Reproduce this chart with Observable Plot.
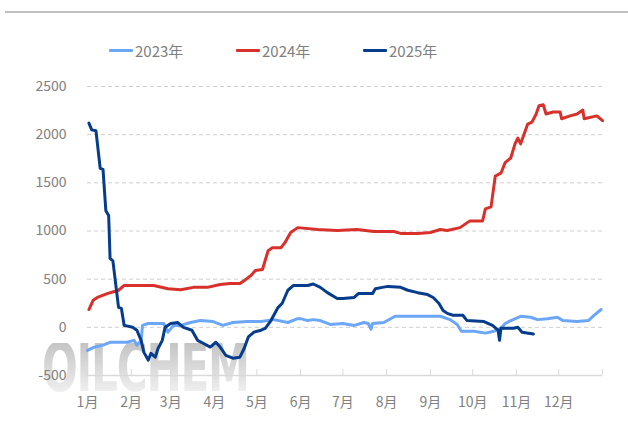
<!DOCTYPE html>
<html>
<head>
<meta charset="utf-8">
<script src="https://cdn.jsdelivr.net/npm/d3@7"></script>
<script src="https://cdn.jsdelivr.net/npm/@observablehq/plot@0.6"></script>
<style>
  html, body { margin: 0; padding: 0; background: #fff; width: 628px; height: 428px; overflow: hidden; }
  body { position: relative; font-family: "Noto Sans CJK SC", "Noto Sans", sans-serif; }
  #topline { position: absolute; left: 5px; top: 11px; width: 623px; height: 2px; background: #c0c0c0; }
  .leg { position: absolute; top: 40px; height: 20px; display: flex; align-items: center; font-size: 15px; color: #7f7f7f; }
  .leg span.sw { display: inline-block; width: 24px; height: 3px; margin-right: 2px; border-radius: 1px; }
  #wm { position: absolute; left: 42px; top: 343px; font-family: "DejaVu Sans", sans-serif; font-weight: bold; font-size: 67px; line-height: 0.75; letter-spacing: -2px;
        transform: scaleX(0.63); transform-origin: left top;
        background: linear-gradient(#c4c4c4, #f0f0f0); -webkit-background-clip: text; background-clip: text; color: transparent; }
  #chart { position: absolute; left: 0; top: 70px; }
</style>
</head>
<body>
<div id="topline"></div>
<div id="wm">OILCHEM</div>
<div id="legend"></div>
<div id="chart"></div>
<script>
const seriesNames = ["2023年", "2024年", "2025年"];
const seriesColors = ["#6ca6f6", "#d8302a", "#053c8c"];
const monthLabels = ["1月","2月","3月","4月","5月","6月","7月","8月","9月","10月","11月","12月"];
const monthStarts = [0,31,59,90,120,151,181,212,243,273,304,334];
const yearEnd = 365;
const yTicks = [-500, 0, 500, 1000, 1500, 2000, 2500];

const days2023 = [0,4,11,16,21,28,33,35,38,39,43,48,54,57,61,66,73,80,89,96,103,113,123,132,142,149,151,156,160,165,172,181,189,196,199,201,202,210,218,231,250,257,262,265,274,282,288,293,296,300,307,314,319,326,333,337,347,355,359,364];
const vals2023 = [-240,-210,-185,-155,-155,-155,-135,-185,-140,20,40,40,40,-50,20,20,50,70,60,20,50,60,60,80,50,90,90,70,80,70,30,40,20,50,40,-20,40,50,115,115,115,80,30,-40,-40,-60,-40,-10,40,70,115,105,80,90,105,70,60,70,125,185];

const days2024 = [1,4,7,14,22,26,47,57,66,75,85,94,101,108,112,116,119,124,128,131,137,140,144,149,163,177,191,203,217,222,234,243,250,255,264,271,280,282,286,289,293,296,300,303,305,307,312,315,318,320,323,325,330,335,336,342,347,351,352,361,365];
const vals2024 = [185,280,310,350,385,435,435,400,390,415,415,445,455,455,495,540,590,600,795,825,825,880,985,1035,1015,1005,1015,995,995,975,975,985,1015,1005,1035,1105,1105,1230,1250,1570,1600,1710,1760,1905,1965,1905,2110,2130,2215,2300,2310,2215,2235,2235,2165,2195,2215,2255,2165,2195,2145];

const days2025 = [1,3,6,9,11,13,15,16,18,22,24,26,32,35,38,40,43,45,48,50,53,55,59,64,68,74,78,82,87,91,94,98,103,108,111,114,118,123,126,130,135,138,142,146,156,160,165,170,177,181,189,192,202,204,209,213,222,227,234,241,245,249,252,255,259,266,269,281,287,291,292,293,302,305,308,316];
const vals2025 = [2120,2050,2040,1650,1640,1210,1160,715,690,207,197,20,0,-30,-135,-260,-340,-270,-310,-220,-135,0,40,50,0,-30,-135,-165,-205,-155,-205,-290,-320,-310,-220,-100,-50,-30,-10,70,205,250,385,435,435,450,415,360,300,300,310,350,350,400,415,425,415,385,360,340,310,250,175,145,125,125,70,60,20,-30,-135,-10,-10,0,-50,-70];

const allDays = [days2023, days2024, days2025];
const allVals = [vals2023, vals2024, vals2025];
const rows = [];
allDays.forEach((ds, s) => ds.forEach((d, i) => rows.push({series: seriesNames[s], day: d, value: allVals[s][i]})));

// legend
const legendLeft = [109, 236, 363];
const legend = document.getElementById("legend");
seriesNames.forEach((n, i) => {
  const el = document.createElement("div");
  el.className = "leg";
  el.style.left = legendLeft[i] + "px";
  el.innerHTML = `<span class="sw" style="background:${seriesColors[i]}"></span><span>${n}</span>`;
  legend.appendChild(el);
});

const chart = Plot.plot({
  width: 628,
  height: 358,
  marginTop: 16,
  marginBottom: 53,
  marginLeft: 87,
  marginRight: 26,
  style: {background: "transparent", fontFamily: "'Noto Sans CJK SC', 'Noto Sans', sans-serif", fontSize: "14px", color: "#7f7f7f"},
  x: {domain: [0, yearEnd]},
  y: {domain: [-500, 2500]},
  color: {domain: seriesNames, range: seriesColors},
  marks: [
    Plot.ruleY(yTicks.filter(v => v > -500), {stroke: "#cfcfcf", strokeDasharray: "4,3"}),
    Plot.ruleY([-500], {stroke: "#d9d9d9", strokeWidth: 1.5}),
    Plot.ruleX([...monthStarts, yearEnd], {y1: -500, y2: -440, stroke: "#d9d9d9"}),
    Plot.axisY({ticks: yTicks, tickFormat: d => String(d), tickSize: 0, tickPadding: 21, fill: "#808080", fontSize: 14, label: null}),
    Plot.axisX({ticks: monthStarts, tickFormat: d => monthLabels[monthStarts.indexOf(d)], tickSize: 0, tickPadding: 22, fill: "#808080", fontSize: 14, label: null}),
    Plot.line(rows, {x: "day", y: "value", z: "series", stroke: "series", strokeWidth: 3, strokeLinejoin: "round", strokeLinecap: "round"})
  ]
});
document.getElementById("chart").appendChild(chart);
</script>
</body>
</html>
